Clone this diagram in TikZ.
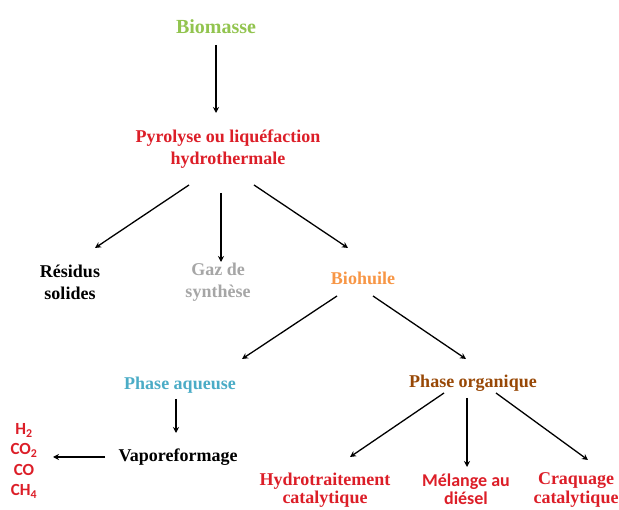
\documentclass[tikz,border=0pt]{standalone}
\usepackage{fontspec}
\setmainfont{Liberation Serif}
\newfontfamily\calfont{Carlito}
\usetikzlibrary{calc,arrows.meta}

\definecolor{biogreen}{RGB}{146,196,79}
\definecolor{procred}{RGB}{220,30,40}
\definecolor{gazgray}{RGB}{166,166,166}
\definecolor{oilorange}{RGB}{247,150,70}
\definecolor{aqblue}{RGB}{75,172,198}
\definecolor{orgbrown}{RGB}{152,72,6}

\tikzset{
  lbl/.style={align=center,inner sep=1pt,font=\fontsize{18}{22}\selectfont\bfseries},
  cal/.style={align=center,inner sep=1pt,font=\fontsize{18}{21}\selectfont\calfont\bfseries},
  flow/.style={line width=1.3pt,-{Stealth[length=6pt,width=6pt]}}
}

\begin{document}
\begin{tikzpicture}[x=1pt,y=-1pt]
\useasboundingbox (0,0) rectangle (619,510);

%top
\node[lbl,text=biogreen,font=\fontsize{20}{24}\selectfont\bfseries] (bio) at (216,27) {Biomasse};
\node[lbl,text=procred] (pyro) at (228,149) {Pyrolyse ou liquéfaction\\hydrothermale};

%products
\node[lbl] (res) at (70,282) {Résidus\\solides};
\node[lbl,text=gazgray] (gaz) at (218,282) {Gaz de\\synthèse};
\node[lbl,text=oilorange] (huile) at (363,278) {Biohuile};

%phases
\node[lbl,text=aqblue] (aq) at (180,385) {Phase aqueuse};
\node[lbl,text=orgbrown] (org) at (473,383) {Phase organique};
\node[lbl] (vapo) at (178,457) {Vaporeformage};
\node[cal,text=procred,font=\fontsize{17}{20.5}\selectfont\calfont\bfseries] (gases) at (24,461) {H\textsubscript{2}\\CO\textsubscript{2}\\CO\\CH\textsubscript{4}};

%upgrading
\node[lbl,text=procred,font=\fontsize{18}{18.5}\selectfont\bfseries] (hydro) at (325,490) {Hydrotraitement\\catalytique};
\node[cal,text=procred,font=\fontsize{18}{18}\selectfont\calfont\bfseries] (mel) at (466,489) {Mélange au\\diésel};
\node[lbl,text=procred,font=\fontsize{18}{18.5}\selectfont\bfseries] (craq) at (576,490) {Craquage\\catalytique};

\draw[flow] ($(bio)+(0,18)$) -- ($(pyro)+(-12,-36)$);
\draw[flow] ($(pyro)+(-39,36)$) -- ($(res)+(25,-34)$);
\draw[flow] ($(pyro)+(-7,44)$) -- ($(gaz)+(3,-20)$);
\draw[flow] ($(pyro)+(26,36)$) -- ($(huile)+(-15,-30)$);

\draw[flow] ($(huile)+(-26,18)$) -- ($(aq)+(62,-26)$);
\draw[flow] ($(huile)+(10,18)$) -- ($(org)+(-7,-24)$);

\draw[flow] ($(aq)+(-4,14)$) -- ($(vapo)+(-2,-24)$);
\draw[flow] ($(vapo)+(-73,0)$) -- ($(gases)+(29,-4)$);

\draw[flow] ($(org)+(-29,10)$) -- ($(hydro)+(25,-33)$);
\draw[flow] ($(org)+(-6,15)$) -- ($(mel)+(1,-22)$);
\draw[flow] ($(org)+(23,10)$) -- ($(craq)+(12,-30)$);

\end{tikzpicture}
\end{document}
